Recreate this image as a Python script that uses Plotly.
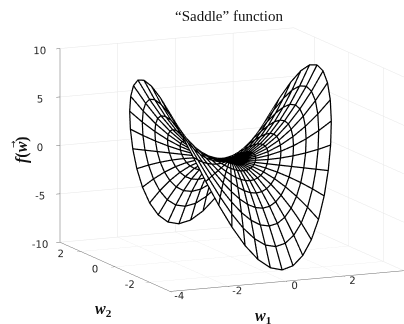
import plotly.graph_objects as go

ring_radius = [0, 0.375, 0.75, 1.125, 1.5, 1.875, 2.25, 2.625, 3]
ring_height = [0, 0.14, 0.56, 1.27, 2.25, 3.52, 5.06, 6.89, 9]
q_cos = [1, 0.991, 0.966, 0.924, 0.866, 0.793, 0.707, 0.609, 0.5, 0.383, 0.259, 0.131, 0]
q_sin = [0, 0.131, 0.259, 0.383, 0.5, 0.609, 0.707, 0.793, 0.866, 0.924, 0.966, 0.991, 1]
q_shape = [1, 0.966, 0.866, 0.707, 0.5, 0.259, 0, -0.259, -0.5, -0.707, -0.866, -0.966, -1]
spoke_w1 = q_cos + [-v for v in q_cos[-2::-1]] + [-v for v in q_cos[1:]] + q_cos[-2::-1]
spoke_w2 = q_sin + q_sin[-2::-1] + [-v for v in q_sin[1:]] + [-v for v in q_sin[-2::-1]]
spoke_shape = q_shape + q_shape[-2::-1] + q_shape[1:] + q_shape[-2::-1]
# nudge along the line of sight: lines stay in place on screen but clear the white faces
nudge = (-0.06, -0.10, 0.10)

w1 = [[r * c for c in spoke_w1] for r in ring_radius]
w2 = [[r * s for s in spoke_w2] for r in ring_radius]
f = [[h * k for k in spoke_shape] for h in ring_height]

lx, ly, lz = [], [], []
for i in range(1, len(ring_radius)):
    lx += [v + nudge[0] for v in w1[i]] + [None]
    ly += [v + nudge[1] for v in w2[i]] + [None]
    lz += [v + nudge[2] for v in f[i]] + [None]
for j in range(len(spoke_w1)):
    for i in range(len(ring_radius)):
        lx.append(w1[i][j] + nudge[0]); ly.append(w2[i][j] + nudge[1]); lz.append(f[i][j] + nudge[2])
    lx.append(None); ly.append(None); lz.append(None)

fig = go.Figure()
fig.add_trace(go.Surface(x=w1, y=w2, z=f, colorscale=[[0, "white"], [1, "white"]], showscale=False,
                         lighting=dict(ambient=1, diffuse=0, specular=0, roughness=1, fresnel=0),
                         hoverinfo="skip"))
fig.add_trace(go.Scatter3d(x=lx, y=ly, z=lz, mode="lines", line=dict(color="black", width=2.5),
                           hoverinfo="skip", showlegend=False))

ax = dict(showbackground=False, showspikes=False, showline=True, linecolor="#6a6a6a", linewidth=1,
          gridcolor="#e6e6e6", gridwidth=1, zeroline=False, title=dict(text=""), ticks="outside",
          ticklen=4, tickcolor="#6a6a6a", tickangle=0,
          tickfont=dict(family="DejaVu Sans", size=11, color="#262626"))
P = dict(xref="paper", yref="paper", showarrow=False, xanchor="center", yanchor="middle")
def px(x): return x / 404
def py(y): return 1 - y / 324
fig.update_layout(
    width=404, height=324, margin=dict(l=0, r=0, t=0, b=0, autoexpand=False), paper_bgcolor="white",
    showlegend=False,
    scene=dict(
        domain=dict(x=[0, 1], y=[0, 1]),
        xaxis=dict(ax, range=[-4, 4.1], tickvals=[-4, -2, 0, 2], ticktext=["-4", "-2", "0", "2"]),
        yaxis=dict(ax, range=[-3.2, 3.2], tickvals=[-2, 0, 2], ticktext=["-2", "0", "2"]),
        zaxis=dict(ax, range=[-10, 10], tickvals=[-10, -5, 0, 5, 10], ticktext=["-10", "-5", "0", "5", "10"]),
        aspectmode="manual", aspectratio=dict(x=1.58, y=1.67, z=1.22),
        camera=dict(projection=dict(type="orthographic"), up=dict(x=0, y=0, z=1),
                    eye=dict(x=-0.684, y=-1.08, z=0.242), center=dict(x=-0.169, y=0.075, z=-0.015)),
    ),
    annotations=[
        dict(P, text="“Saddle” function", x=px(229), y=py(16),
             font=dict(family="Liberation Serif", size=15, color="#111")),
        dict(P, text="<b><i>w</i><sub>1</sub></b>", x=px(263), y=py(316),
             font=dict(family="Liberation Serif", size=16, color="#111")),
        dict(P, text="<b><i>w</i><sub>2</sub></b>", x=px(103), y=py(309),
             font=dict(family="Liberation Serif", size=16, color="#111")),
        dict(P, text="<b><i>f</i>(<i>w</i>)</b>", x=px(22), y=py(150), textangle=-90,
             font=dict(family="Liberation Serif", size=16, color="#111")),
        dict(P, text="→", x=px(13), y=py(144), textangle=-90,
             font=dict(family="DejaVu Sans", size=9, color="#111")),
    ],
)
fig.write_html("out.html", config=dict(displayModeBar=False),
               post_script="document.body.style.margin='0';")
